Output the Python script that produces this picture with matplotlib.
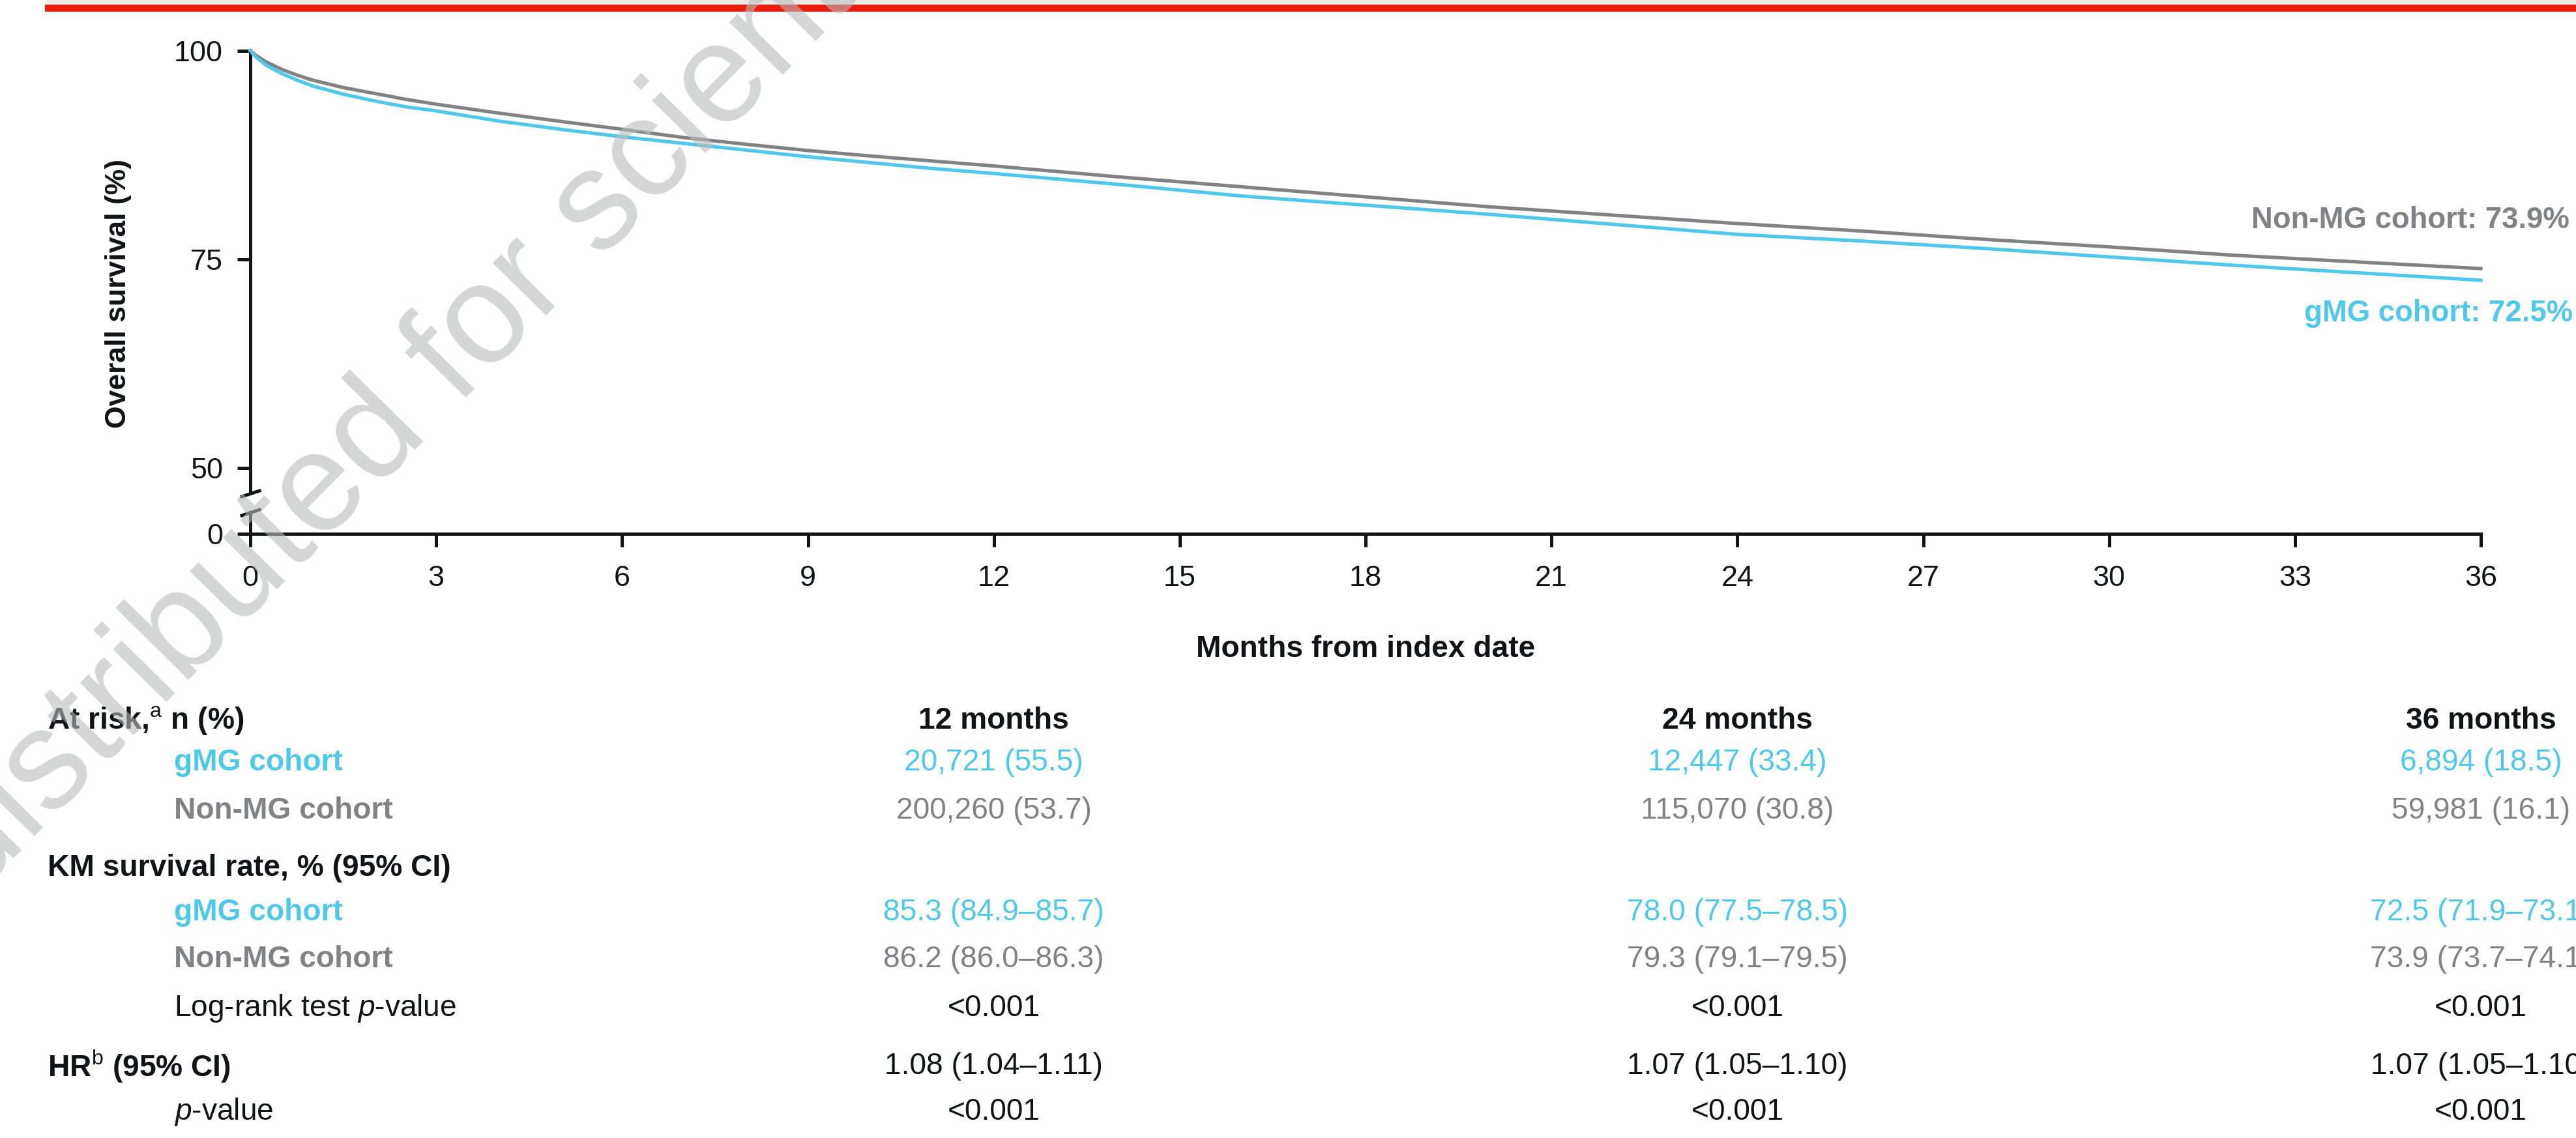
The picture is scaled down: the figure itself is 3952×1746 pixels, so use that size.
import matplotlib.pyplot as plt
from matplotlib.patches import Rectangle
from matplotlib.transforms import blended_transform_factory

plt.rcParams['font.family'] = ['Liberation Sans', 'DejaVu Sans']
plt.rcParams['mathtext.fontset'] = 'custom'
plt.rcParams['mathtext.rm'] = 'Liberation Sans'
plt.rcParams['mathtext.it'] = 'Liberation Sans:italic'
plt.rcParams['mathtext.bf'] = 'Liberation Sans:bold'

W, H, DPI = 3952, 1746, 200

gmg_color = "#4fc8e9"
non_color = "#808285"
ink = "#111416"

# KM curves (months, overall survival %)
months = [0, 0.1, 0.25, 0.5, 0.75, 1, 1.5, 2, 2.5, 3, 4, 5, 6, 7, 8, 9, 10, 11,
          12, 14, 16, 18, 20, 22, 24, 26, 28, 30, 32, 34, 36]
non_mg = [100, 99.4, 98.7, 97.8, 97.1, 96.5, 95.6, 94.9, 94.2, 93.6, 92.55, 91.55,
          90.6, 89.6, 88.8, 88.05, 87.4, 86.8, 86.2, 84.9, 83.7, 82.5, 81.3, 80.3,
          79.3, 78.4, 77.4, 76.5, 75.5, 74.7, 73.9]
gmg = [100, 99.2, 98.3, 97.3, 96.5, 95.8, 94.8, 94.0, 93.3, 92.8, 91.6, 90.6,
       89.7, 88.9, 88.1, 87.3, 86.6, 85.9, 85.3, 84.0, 82.6, 81.5, 80.4, 79.2,
       78.0, 77.2, 76.3, 75.3, 74.3, 73.4, 72.5]

x_ticks = list(range(0, 37, 3))
y_ticks_top = [50, 75, 100]

# table below the plot
table_months = [12, 24, 36]
table_headers = ["12 months", "24 months", "36 months"]
risk_gmg = ["20,721 (55.5)", "12,447 (33.4)", "6,894 (18.5)"]
risk_non = ["200,260 (53.7)", "115,070 (30.8)", "59,981 (16.1)"]
km_gmg = ["85.3 (84.9\u201385.7)", "78.0 (77.5\u201378.5)", "72.5 (71.9\u201373.1)"]
km_non = ["86.2 (86.0\u201386.3)", "79.3 (79.1\u201379.5)", "73.9 (73.7\u201374.1)"]
logrank_p = ["<0.001", "<0.001", "<0.001"]
hr_ci = ["1.08 (1.04\u20131.11)", "1.07 (1.05\u20131.10)", "1.07 (1.05\u20131.10)"]
hr_p = ["<0.001", "<0.001", "<0.001"]


def box(x0, y_top, x1, y_bot):
    return [x0 / W, 1 - y_bot / H, (x1 - x0) / W, (y_bot - y_top) / H]


def fy(y):
    return 1 - y / H


fig = plt.figure(figsize=(W / DPI, H / DPI), dpi=DPI)

# header band
fig.patches.append(Rectangle((70 / W, fy(7.5)), 1, 7.5 / H, transform=fig.transFigure,
                             color="#eeebe6", zorder=0))
fig.patches.append(Rectangle((70 / W, fy(15.5)), 1, 8 / H, transform=fig.transFigure,
                             color="#eb1a0a", zorder=0))

ax = fig.add_axes(box(384, 78, 3806, 757))
axb = fig.add_axes(box(384, 786, 3806, 819))

ax.plot(months, non_mg, color=non_color, lw=1.9, clip_on=False, zorder=3,
        solid_joinstyle='round')
ax.plot(months, gmg, color=gmg_color, lw=1.9, clip_on=False, zorder=3,
        solid_joinstyle='round')
ax.set_xlim(0, 36)
ax.set_ylim(46.95, 100)
axb.set_xlim(0, 36)
axb.set_ylim(0, 2.58)

for a in (ax, axb):
    a.spines['top'].set_visible(False)
    a.spines['right'].set_visible(False)
    a.spines['left'].set_linewidth(1.8)
    a.spines['left'].set_color(ink)
    a.patch.set_alpha(0)
ax.spines['bottom'].set_visible(False)
axb.spines['bottom'].set_linewidth(1.8)
axb.spines['bottom'].set_color(ink)

ax.set_xticks([])
ax.set_yticks(y_ticks_top)
ax.tick_params(axis='y', length=7.2, width=1.8, color=ink, labelcolor=ink,
               labelsize=16.2, pad=8)
axb.set_yticks([0])
axb.set_xticks(x_ticks)
axb.tick_params(axis='both', length=7.2, width=1.8, color=ink, labelcolor=ink,
                labelsize=16.2)
axb.tick_params(axis='y', pad=8)
axb.tick_params(axis='x', pad=10)

# axis break marks
brk = dict(marker=[(-1, -0.33), (1, 0.33)], markersize=11.5, linestyle='none',
           color=ink, mec=ink, mew=1.8, clip_on=False)
ax.plot([0], [0], transform=ax.transAxes, **brk)
axb.plot([0], [1], transform=axb.transAxes, **brk)

fig.text(182 / W, fy(450), "Overall survival (%)", rotation=90, ha='center',
         va='center', fontsize=16, fontweight='bold', color=ink)
fig.text(2095 / W, fy(996), "Months from index date", ha='center', va='center',
         fontsize=16.6, fontweight='bold', color=ink)

ax.text(32.3, 79.7, "Non-MG cohort: 73.9%", ha='left', va='center',
        fontsize=16.4, fontweight='bold', color=non_color, clip_on=False)
ax.text(33.15, 68.5, "gMG cohort: 72.5%", ha='left', va='center',
        fontsize=16.4, fontweight='bold', color=gmg_color, clip_on=False)

# table
fs = 16.6
lab_x0, lab_x1 = 73 / W, 267 / W
fig.text(lab_x0, fy(1106), r"At risk,$^{\mathrm{a}}$ n (%)", ha='left', va='center',
         fontsize=fs, fontweight='bold', color=ink)
fig.text(lab_x1, fy(1170), "gMG cohort", ha='left', va='center', fontsize=fs,
         fontweight='bold', color=gmg_color)
fig.text(lab_x1, fy(1244), "Non-MG cohort", ha='left', va='center', fontsize=fs,
         fontweight='bold', color=non_color)
fig.text(lab_x0, fy(1332), "KM survival rate, % (95% CI)", ha='left', va='center',
         fontsize=fs, fontweight='bold', color=ink)
fig.text(lab_x1, fy(1400), "gMG cohort", ha='left', va='center', fontsize=fs,
         fontweight='bold', color=gmg_color)
fig.text(lab_x1, fy(1472), "Non-MG cohort", ha='left', va='center', fontsize=fs,
         fontweight='bold', color=non_color)
fig.text(lab_x1, fy(1547), r"Log-rank test $\mathit{p}$-value", ha='left',
         va='center', fontsize=fs, color=ink)
fig.text(lab_x0, fy(1636), r"HR$^{\mathrm{b}}$ (95% CI)", ha='left', va='center',
         fontsize=fs, fontweight='bold', color=ink)
fig.text(lab_x1, fy(1706), r"$\mathit{p}$-value", ha='left', va='center',
         fontsize=fs, color=ink)

tr = blended_transform_factory(axb.transData, fig.transFigure)
rows = [
    (1106, table_headers, ink, 'bold'),
    (1170, risk_gmg, gmg_color, 'normal'),
    (1244, risk_non, non_color, 'normal'),
    (1400, km_gmg, gmg_color, 'normal'),
    (1472, km_non, non_color, 'normal'),
    (1547, logrank_p, ink, 'normal'),
    (1636, hr_ci, ink, 'normal'),
    (1706, hr_p, ink, 'normal'),
]
for y, vals, col, wt in rows:
    for m, v in zip(table_months, vals):
        fig.text(m, fy(y), v, transform=tr, ha='center', va='center', fontsize=fs,
                 fontweight=wt, color=col)

# watermark
fig.text(-41 / W, 367 / H, "distributed for scientific", rotation=45.5,
         rotation_mode='anchor', ha='left', va='baseline', fontsize=78,
         color="#b9bbbb", alpha=0.6, zorder=10)

fig.savefig("out.png", dpi=DPI)
